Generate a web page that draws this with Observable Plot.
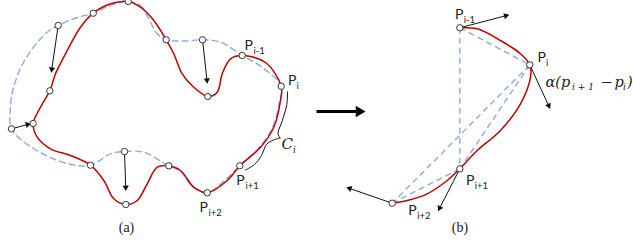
<!DOCTYPE html>
<html><head><meta charset="utf-8">
<script src="https://cdn.jsdelivr.net/npm/d3@7"></script>
<script src="https://cdn.jsdelivr.net/npm/@observablehq/plot@0.6"></script>
<style>body{margin:0;background:#fff;} #chart svg{display:block;}</style>
</head><body><div id="chart"></div>
<script>
// Panel (a): original curve (dashed blue) through its control points
const bluePathA = [[127.7,1],[140,5],[148.3,18.3],[156.7,33.3],[165.7,39.3],[184,40.5],[202,39.3],[220,41.7],[241.7,55],[262,67],[280.7,85.7],[279,101],[272,127],[258,148],[239.3,165.3],[224,180],[206.7,192.3],[193,187],[180,171],[168.3,165.3],[160,160.5],[143.3,151.7],[124,151],[110,153.3],[90,164.7],[66.7,163],[33,148],[11,128.3],[9.8,110],[12.3,90],[20.5,66.7],[33,46.7],[46.7,31.7],[57.7,25],[76.7,17],[92.7,12.7],[110,5]];
// Panel (a): deformed curve (red)
const redPathA = [[127.7,1],[140,6.7],[153.3,20],[165.7,39.3],[173.3,53.3],[181.7,73.3],[193.3,86.7],[207.3,96],[216.7,91.7],[221.7,73.3],[230,58.3],[241.7,55],[265,62],[280.7,85.7],[280,100],[273.3,126.7],[260,146.7],[239.3,165.3],[226.7,180],[206.7,192.3],[193.3,186.7],[180,170],[168.3,165.3],[156.7,166.7],[146.7,183.3],[136.7,200],[125.3,204],[113.3,198.3],[103.3,180],[90,164.7],[70,155],[50,148.3],[36.7,136.7],[32.7,123],[40,106.7],[49.3,90.3],[55,73.3],[66.7,50],[80,26.7],[92.7,12.7],[110,3.3]];
const pointsA = [[127.7,1],[92.7,12.7],[57.7,25],[49.3,90.3],[32.7,123],[11,128.3],[90,164.7],[124,151],[125.3,204],[168.3,165.3],[206.7,192.3],[239.3,165.3],[280.7,85.7],[241.7,55],[207.3,96],[202,39.3],[165.7,39.3]];
const arrowsA = [[57.7,25,51,70.7],[11,128.3,29,123.5],[124,151,125.3,189],[202,39.3,206.7,81.7]];
const braceUpper = [[287,91],[286.3,104],[281.5,121],[277.5,133],[279.5,137.5]];
const braceLower = [[279.5,137.5],[273,139.5],[266,144],[261,155],[254,164],[245,169.5]];

// Panel (b)
const redPathB = [[459.3,27.3],[476.7,28.3],[500,40],[520,53.3],[529.3,64.3],[530,76.7],[520,103.3],[500,130],[476.7,150],[459.3,168.3],[446.7,180],[426.7,193.3],[406.7,200],[391.7,202.7]];
const pointsB = [[459.3,27.3],[529.3,64.3],[459.3,168.3],[391.7,202.7]];
const dashedB = [[459.3,27.3,529.3,64.3],[459.3,27.3,459.3,168.3],[529.3,64.3,459.3,168.3],[529.3,64.3,391.7,202.7],[459.3,168.3,391.7,202.7]];
const arrowsB = [[459.3,27.3,507.3,14.7],[529.3,64.3,549,107],[459.3,168.3,438.3,209.3],[391.7,202.7,347.3,187.3]];
const bigArrow = [[316,111,362,111]];

// Labels
const pLabels = [[248.3,45,"P"],[291.7,80,"P"],[240,180,"P"],[203.3,207,"P"],[458.8,14,"P"],[541.2,57,"P"],[469.7,180,"P"],[412,210,"P"]];
const subLabels = [[253,50.5,"i-1"],[296,85.5,"i"],[245,185.5,"i+1"],[208,212.5,"i+2"],[463.2,19.5,"i-1"],[545.5,62.5,"i"],[474.3,185.5,"i+1"],[416.7,215.5,"i+2"]];
const cLabel = [[286.7,143.5,"C"]];
const cSub = [[292.5,149.5,"i"]];
const panelLabels = [[126,227,"(a)"],[459.5,227,"(b)"]];
const formulaMain = [[545,82,"α(p"],[614,82,"p"],[626.5,82,")"]];
const formulaSub = [[571.5,86.5,"i + 1"],[622.5,86.5,"i"]];
const formulaMinus = [[600,82,"−"]];

const X = d => d[0], Y = d => d[1];
const lbl = "Lato, 'Open Sans', sans-serif";
const math = "'DejaVu Serif', serif";
const ink = "#222";

// arrow geometry helpers: shaft stops short of the tip, filled triangle head at the tip
function shafts(arr, back) {
  return arr.map(([x1, y1, x2, y2]) => {
    const L = Math.hypot(x2 - x1, y2 - y1), ux = (x2 - x1) / L, uy = (y2 - y1) / L;
    return [x1, y1, x2 - ux * back, y2 - uy * back];
  });
}
function heads(arr, back) {
  return arr.map(([x1, y1, x2, y2]) => {
    const L = Math.hypot(x2 - x1, y2 - y1), ux = (x2 - x1) / L, uy = (y2 - y1) / L;
    return {x: x2 - ux * back, y: y2 - uy * back, a: Math.atan2(x2 - x1, -(y2 - y1)) * 180 / Math.PI};
  });
}
const thin = arrowsA.concat(arrowsB);

const chart = Plot.plot({
  width: 633, height: 243, margin: 0,
  x: {domain: [0, 633], range: [0, 633], axis: null},
  y: {domain: [0, 243], range: [0, 243], axis: null},
  style: {background: "white", overflow: "visible"},
  marks: [
    Plot.line(bluePathA, {x: X, y: Y, curve: "catmull-rom-closed", stroke: "#8eaadb", strokeWidth: 1.4, strokeDasharray: "6,4"}),
    Plot.line(redPathA, {x: X, y: Y, curve: "catmull-rom-closed", stroke: "#c00000", strokeWidth: 1.5}),
    Plot.link(dashedB, {x1: d => d[0], y1: d => d[1], x2: d => d[2], y2: d => d[3], stroke: "#8eaadb", strokeWidth: 1.4, strokeDasharray: "6,4"}),
    Plot.line(redPathB, {x: X, y: Y, curve: "catmull-rom", stroke: "#c00000", strokeWidth: 1.5}),
    Plot.line(braceUpper, {x: X, y: Y, curve: "catmull-rom", stroke: "#111", strokeWidth: 1}),
    Plot.line(braceLower, {x: X, y: Y, curve: "catmull-rom", stroke: "#111", strokeWidth: 1}),
    Plot.link(shafts(thin, 3), {x1: d => d[0], y1: d => d[1], x2: d => d[2], y2: d => d[3], stroke: "#111", strokeWidth: 1}),
    Plot.dot(heads(thin, 2), {x: "x", y: "y", rotate: "a", symbol: "triangle", r: 2.3, fill: "#111", stroke: "none"}),
    Plot.link(shafts(bigArrow, 6), {x1: d => d[0], y1: d => d[1], x2: d => d[2], y2: d => d[3], stroke: "#000", strokeWidth: 3.2}),
    Plot.dot(heads(bigArrow, 3.5), {x: "x", y: "y", rotate: "a", symbol: "triangle", r: 4.2, fill: "#000", stroke: "none"}),
    Plot.dot(pointsA.concat(pointsB), {x: X, y: Y, r: 3.2, fill: "white", stroke: "#333", strokeWidth: 1}),
    Plot.text(pLabels, {x: X, y: Y, text: d => d[2], fontSize: 14, fontFamily: lbl, fill: ink, textAnchor: "middle"}),
    Plot.text(subLabels, {x: X, y: Y, text: d => d[2], fontSize: 9.5, fontFamily: lbl, fill: ink, textAnchor: "start"}),
    Plot.text(cLabel, {x: X, y: Y, text: d => d[2], fontSize: 15, fontFamily: math, fontStyle: "italic", fill: ink, textAnchor: "middle"}),
    Plot.text(cSub, {x: X, y: Y, text: d => d[2], fontSize: 9, fontFamily: math, fontStyle: "italic", fill: ink, textAnchor: "start"}),
    Plot.text(panelLabels, {x: X, y: Y, text: d => d[2], fontSize: 14, fontFamily: "'Liberation Serif', serif", fill: ink, textAnchor: "middle"}),
    Plot.text(formulaMain, {x: X, y: Y, text: d => d[2], fontSize: 14.5, fontFamily: math, fontStyle: "italic", fill: ink, textAnchor: "start"}),
    Plot.text(formulaSub, {x: X, y: Y, text: d => d[2], fontSize: 9, fontFamily: math, fontStyle: "italic", fill: ink, textAnchor: "start"}),
    Plot.text(formulaMinus, {x: X, y: Y, text: d => d[2], fontSize: 14.5, fontFamily: math, fill: ink, textAnchor: "start"})
  ]
});
document.getElementById("chart").append(chart);
</script>
</body></html>
